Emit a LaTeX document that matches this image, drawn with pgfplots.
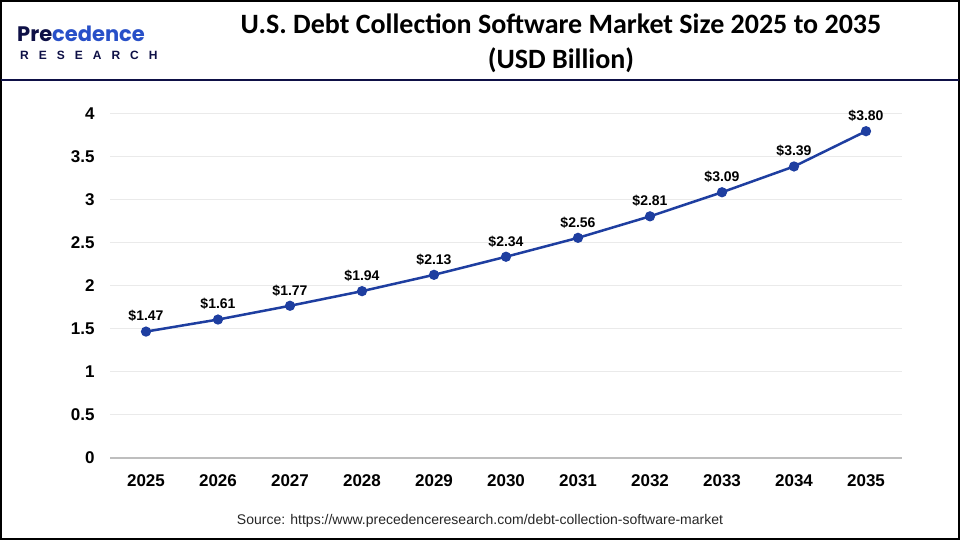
\documentclass[border=0pt]{standalone}
\usepackage{pgfplots}
\pgfplotsset{compat=1.18}
\usepackage{fontspec}
\setmainfont{Liberation Sans}
\newfontfamily\titlefont{Carlito}
\newfontfamily\logofont{Poppins}

\definecolor{linec}{RGB}{30,62,160}
\definecolor{navy}{RGB}{14,16,70}
\definecolor{logoblue}{RGB}{40,80,200}
\definecolor{gridc}{RGB}{234,234,234}
\definecolor{axisc}{RGB}{190,190,190}

\pgfplotstableread{
year value
2025 1.47
2026 1.61
2027 1.77
2028 1.94
2029 2.13
2030 2.34
2031 2.56
2032 2.81
2033 3.09
2034 3.39
2035 3.80
}\market

\begin{document}
\begin{tikzpicture}
\useasboundingbox (0,0) rectangle (960pt,540pt);
\fill[white] (0,0) rectangle (960pt,540pt);
\draw[black, line width=2pt] (1pt,1pt) rectangle (959pt,539pt);
\draw[navy, line width=2pt] (1pt,460pt) -- (959pt,460pt);

% logo
\node[anchor=base west, inner sep=0pt, text=navy, font=\logofont\bfseries\fontsize{21}{21}\selectfont]
  at (17pt,498pt) {Pre\textcolor{logoblue}{cedence}};
\node[anchor=base west, inner sep=0pt, text=navy, font=\bfseries\fontsize{12}{12}\selectfont]
  at (20pt,480pt) {R\hspace{10pt}E\hspace{10pt}S\hspace{10pt}E\hspace{10pt}A\hspace{10pt}R\hspace{10pt}C\hspace{10pt}H};

% title
\node[align=center, inner sep=0pt, font=\titlefont\bfseries\fontsize{28}{35}\selectfont]
  at (561pt,497pt) {U.S. Debt Collection Software Market Size 2025 to 2035\\(USD Billion)};

\begin{axis}[
  at={(110pt,82pt)}, anchor=south west,
  scale only axis, width=792pt, height=344pt,
  xmin=2024.5, xmax=2035.5, ymin=0, ymax=4,
  xtick=data, ytick={0,0.5,...,4},
  xticklabel style={/pgf/number format/1000 sep={}, yshift=-13pt},
  yticklabel style={/pgf/number format/fixed, xshift=-12pt},
  /pgf/number format/assume math mode=true,
  tick label style={font=\bfseries\fontsize{17}{17}\selectfont},
  axis x line*=bottom, axis y line*=left,
  x axis line style={axisc, line width=2pt, -},
  y axis line style={draw=none},
  major tick length=0pt,
  ymajorgrids, grid style={gridc, line width=1pt},
  clip=false,
]
\addplot[linec, line width=2.5pt, mark=*, mark size=3.8pt,
  nodes near coords={\$\pgfmathprintnumber[fixed,fixed zerofill,precision=2]{\pgfplotspointmeta}},
  point meta=y,
  every node near coord/.append style={text=black, font=\bfseries\fontsize{14}{14}\selectfont, yshift=5pt},
] table[x=year,y=value] {\market};
\end{axis}

\node[font=\fontsize{14}{14}\selectfont, text=black!85] at (480pt,19pt)
  {Source: https://www.precedenceresearch.com/debt-collection-software-market};
\end{tikzpicture}
\end{document}
